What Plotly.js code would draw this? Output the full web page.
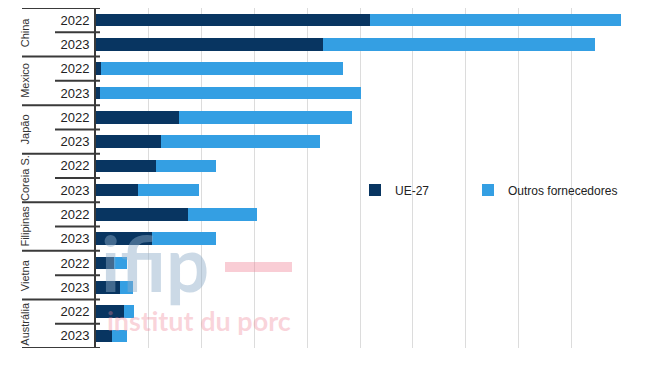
<!DOCTYPE html>
<html>
<head>
<meta charset="utf-8">
<script src="https://cdn.plot.ly/plotly-3.0.1.min.js"></script>
<style>html,body{margin:0;padding:0;background:#fff;}#chart{width:650px;height:366px;}</style>
</head>
<body>
<div id="chart"></div>
<script>
var countries = ["China", "Mexico", "Japão", "Coreia S.", "Filipinas", "Vietna", "Austrália"];
var years = ["2022", "2023"];
// order: China 2022, China 2023, Mexico 2022, ...
var ue27 = [5.19, 4.30, 0.09, 0.08, 1.57, 1.23, 1.14, 0.80, 1.74, 1.06, 0.34, 0.45, 0.53, 0.30];
var totals = [9.94, 9.45, 4.68, 5.02, 4.85, 4.24, 2.27, 1.95, 3.05, 2.27, 0.59, 0.70, 0.72, 0.59];

var idx = [], tickText = [], outros = [];
for (var g = 0; g < countries.length; g++) {
  for (var k = 0; k < years.length; k++) {
    var i = g * years.length + k;
    idx.push(i);
    tickText.push(years[k]);
    outros.push(+(totals[i] - ue27[i]).toFixed(2));
  }
}

var traces = [
  {type: 'bar', orientation: 'h', name: 'UE-27', y: idx, x: ue27,
   marker: {color: '#083561'}, width: 0.52, hoverinfo: 'x', legend: 'legend'},
  {type: 'bar', orientation: 'h', name: 'Outros fornecedores', y: idx, x: outros,
   marker: {color: '#349fe3'}, width: 0.52, hoverinfo: 'x', legend: 'legend2'}
];

var shapes = [], annotations = [];
var lineCol = '#3a3a3a';
var x0Long = (22 - 96) / 528, x0Short = (55 - 96) / 528, x1 = (100 - 96) / 528;
for (var b = 0; b <= idx.length; b++) {
  var yb = b - 0.5;
  var isGroup = (b % years.length === 0);
  shapes.push({type: 'line', xref: 'paper', yref: 'y', x0: isGroup ? x0Long : x0Short, x1: x1,
    y0: yb, y1: yb, line: {color: lineCol, width: 2}, layer: 'above'});
}
for (var g2 = 0; g2 < countries.length; g2++) {
  annotations.push({xref: 'paper', yref: 'y', x: (25 - 96) / 528, y: g2 * years.length + 0.5,
    text: countries[g2], textangle: -90, showarrow: false, xanchor: 'center', yanchor: 'middle',
    font: {family: 'Liberation Sans, Arial, sans-serif', size: 11, color: '#333'}});
}
// watermark
annotations.push({xref: 'paper', yref: 'paper', x: (155 - 96) / 528, y: (348 - 262) / 340, text: '<b>ifip</b>',
  showarrow: false, xanchor: 'center', yanchor: 'middle',
  font: {family: 'Lato, sans-serif', size: 76, color: 'rgba(140,170,200,0.45)'}});
annotations.push({xref: 'paper', yref: 'paper', x: (199 - 96) / 528, y: (348 - 320) / 340, text: '<b>institut du porc</b>',
  showarrow: false, xanchor: 'center', yanchor: 'middle',
  font: {family: 'Lato, sans-serif', size: 27, color: 'rgba(240,130,150,0.35)'}});
shapes.push({type: 'line', xref: 'paper', yref: 'paper', x0: (225 - 96) / 528, x1: (292 - 96) / 528,
  y0: (348 - 267) / 340, y1: (348 - 267) / 340, line: {color: 'rgba(240,130,150,0.4)', width: 10}});

var legFont = {family: 'Liberation Sans, Arial, sans-serif', size: 12, color: '#222'};
var layout = {
  width: 650, height: 366,
  margin: {l: 96, r: 26, t: 8, b: 18},
  paper_bgcolor: '#fff', plot_bgcolor: '#fff',
  barmode: 'stack',
  showlegend: true,
  legend: {orientation: 'h', x: (355 - 96) / 528, y: (348 - 190) / 340, xanchor: 'left', yanchor: 'middle',
    font: legFont, bgcolor: 'rgba(0,0,0,0)'},
  legend2: {orientation: 'h', x: (468 - 96) / 528, y: (348 - 190) / 340, xanchor: 'left', yanchor: 'middle',
    font: legFont, bgcolor: 'rgba(0,0,0,0)'},
  font: {family: 'Liberation Sans, Arial, sans-serif'},
  xaxis: {range: [0, 10], dtick: 1, showticklabels: false, showgrid: true, gridcolor: '#dcdcdc',
    gridwidth: 1, zeroline: false, showline: false, fixedrange: true},
  yaxis: {range: [13.5, -0.5], tickmode: 'array', tickvals: idx, ticktext: tickText,
    tickfont: {family: 'Liberation Sans, Arial, sans-serif', size: 13, color: '#222'},
    showgrid: false, zeroline: false, showline: true, linecolor: lineCol, linewidth: 2,
    ticks: '', ticklabelstandoff: 2},
  shapes: shapes,
  annotations: annotations
};

Plotly.newPlot('chart', traces, layout, {displayModeBar: false, staticPlot: true});
</script>
</body>
</html>
